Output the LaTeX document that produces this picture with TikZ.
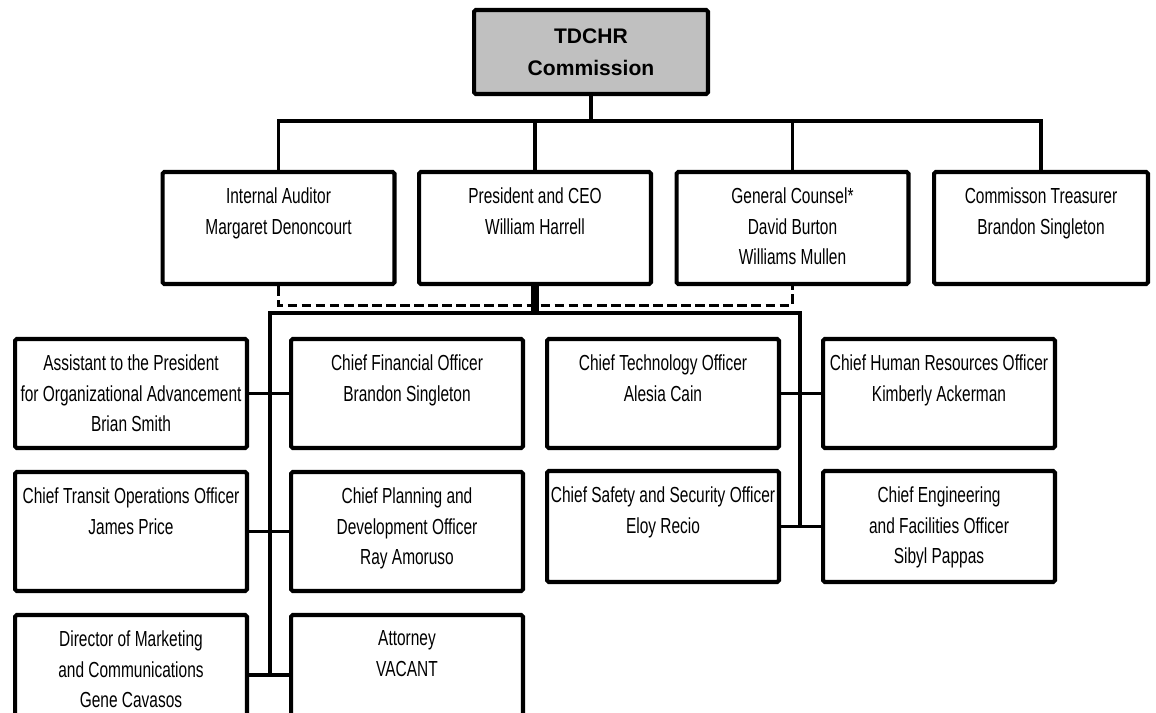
\documentclass[tikz,border=0pt]{standalone}
\usepackage{fontspec}
\setmainfont{Liberation Sans}[FakeStretch=0.71]
\newfontfamily\headfont{Liberation Sans}
\usetikzlibrary{positioning}
\definecolor{cG}{HTML}{C0C0C0}
\tikzset{
  unit/.style={draw,line width=2.3pt,rounded corners=1pt,minimum width=4.64cm,
               minimum height=#1,inner sep=0pt},
  unit/.default=2.18cm,
  role/.style={anchor=north,align=center,inner sep=0pt,yshift=-0.34cm,
               font=\fontsize{12.4}{17.6}\selectfont},
  head/.style={draw,line width=2.3pt,rounded corners=1pt,fill=cG,
               minimum width=4.68cm,minimum height=1.68cm,align=center,
               font=\headfont\bfseries\fontsize{12}{18.2}\selectfont},
  link/.style={line width=1.8pt},
  dotlink/.style={line width=1.7pt,dash pattern=on 5.5pt off 2.5pt},
}

\begin{document}
\begin{tikzpicture}[x=0.02cm,y=-0.02cm]
  \useasboundingbox (0,0) rectangle (1156,713);
  \clip (0,0) rectangle (1156,713);
  \node[head](top) at (591,52){TDCHR\\Commission};
  \node[unit=2.24cm,label={[role]north:{Internal Auditor\\Margaret Denoncourt}}](ia) at (278.5,228){};
  \node[unit=2.24cm,label={[role]north:{President and CEO\\William Harrell}}](pres) at (535,228){};
  \node[unit=2.24cm,label={[role]north:{General Counsel*\\David Burton\\Williams Mullen}}](gc) at (792.5,228){};
  \node[unit=2.24cm,minimum width=4.28cm,label={[role]north:{Commisson Treasurer\\Brandon Singleton}}](tr) at (1041,228){};
  \node[unit,label={[role]north:{Assistant to the President\\for Organizational Advancement\\Brian Smith}}](asst) at (131,393.5){};
  \node[unit,label={[role]north:{Chief Financial Officer\\Brandon Singleton}}](cfo) at (407,393.5){};
  \node[unit,label={[role]north:{Chief Technology Officer\\Alesia Cain}}](cto) at (663,393.5){};
  \node[unit,label={[role]north:{Chief Human Resources Officer\\Kimberly Ackerman}}](chro) at (939,393.5){};
  \node[unit=2.38cm,label={[role]north:{Chief Transit Operations Officer\\James Price}}](trans) at (131,531.5){};
  \node[unit=2.38cm,label={[role]north:{Chief Planning and\\Development Officer\\Ray Amoruso}}](plan) at (407,531.5){};
  \node[unit=2.22cm,label={[role]north:{Chief Safety and Security Officer\\Eloy Recio}}](safe) at (663,526.5){};
  \node[unit=2.22cm,label={[role]north:{Chief Engineering\\and Facilities Officer\\Sibyl Pappas}}](eng) at (939,526.5){};
  \node[unit=2.4cm,label={[role]north:{Director of Marketing\\and Communications\\Gene Cavasos}}](mkt) at (131,675){};
  \node[unit=2.4cm,label={[role]north:{Attorney\\VACANT}}](att) at (407,675){};
  \coordinate (bus) at (591,121);
  \coordinate (lt) at (270,313);
  \coordinate (rt) at (800,313);
  \draw[link](top)--(bus);
  \draw[link](ia.north)|-(tr.north|-bus)--(tr.north);
  \draw[link](pres.north)--(pres.north|-bus);
  \draw[link](gc.north)--(gc.north|-bus);
  \draw[dotlink](ia.south)--++(0,19)-|(gc.south);
  \draw[line width=4pt](pres.south)--(pres.south|-lt);
  \draw[link](mkt.east-|lt)--(lt)--(rt)--(safe.east-|rt);
  \draw[link](asst)--(cfo);
  \draw[link](trans)--(plan);
  \draw[link](mkt)--(att);
  \draw[link](cto)--(chro);
  \draw[link](safe)--(eng);
\end{tikzpicture}
\end{document}
